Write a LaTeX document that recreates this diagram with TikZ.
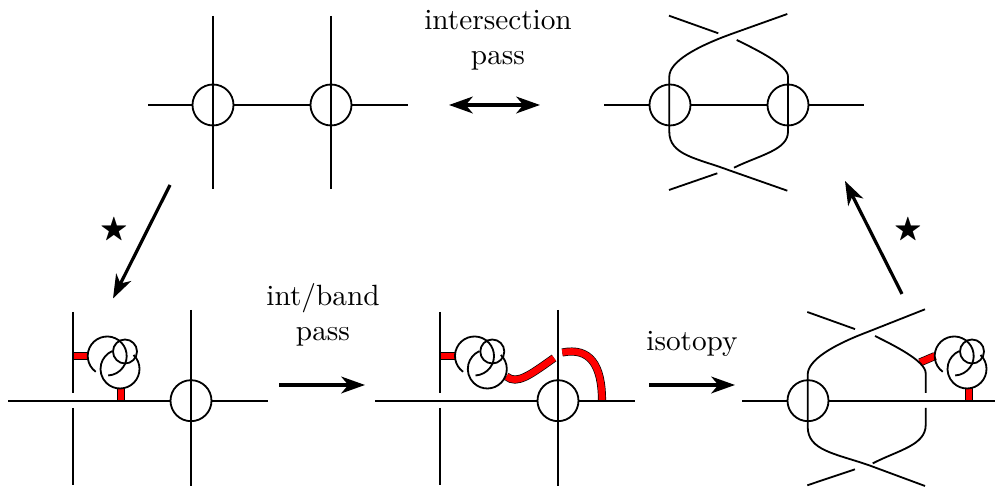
\documentclass[tikz,border=0pt]{standalone}
\usepackage{amsmath}
\usepackage{amssymb}
\usetikzlibrary{arrows.meta}
\tikzset{
    crossing/.style={
    circle,draw=black,inner sep=0pt,minimum size=14.7pt,line width=0.65pt
    },
    strand/.style={
    line width=0.65pt
    },
    band/.style={
    draw=black,double=red,double distance=2.4pt,line width=0.25pt
    },
    move/.style={
    line width=1.15pt,-{Stealth[length=8.5pt,width=6pt,inset=2.5pt]}
    },
    twomove/.style={
    line width=1.15pt,{Stealth[length=8.5pt,width=6pt,inset=2.5pt]}-{Stealth[length=8.5pt,width=6pt,inset=2.5pt]}
    },
    pics/clasper/.style={
    code={
       \draw[strand] (-1.38,4.47) ++(234:1.95) arc[start angle=234,end angle=-87,radius=1.95];
       \draw[strand] (-0.1,3.17) ++(46:1.95) arc[start angle=46,end angle=-246,radius=1.95];
       \draw[strand] (0.4,4.92) circle[radius=1.2];
    }
    },
}

\begin{document}
\begin{tikzpicture}[x=0.126cm, y=0.126cm, font=\fontsize{10.5}{12.6}\selectfont]
   \useasboundingbox (0,0) rectangle (99.5,48.9);

   % top left
   \node[crossing] (A1) at (21.3,38.4) {};
   \node[crossing] (A2) at (33.1,38.4) {};
   \coordinate (Al) at (14.8,38.4);
   \coordinate (Ar) at (40.8,38.4);
   \path[strand]
     (Al) edge (A1)
     (A1) edge (A2)
     (A2) edge (Ar);
   \draw[strand] (21.3,47.3) -- (21.3,30);
   \draw[strand] (33.1,47.3) -- (33.1,30);

   % top right
   \node[crossing] (B1) at (67,38.4) {};
   \node[crossing] (B2) at (78.8,38.4) {};
   \coordinate (Bl) at (60.4,38.4);
   \coordinate (Br) at (86.4,38.4);
   \path[strand]
     (Bl) edge (B1)
     (B1) edge (B2)
     (B2) edge (Br);
   \draw[strand] (78.73,47.5) -- (73.33,45.57) .. controls (69.5,44.2) and (66.93,42.7) .. (66.93,41.23)
     -- (66.93,35.73) .. controls (66.93,33.4) and (69.6,33.1) .. (72.83,31.9) -- (78.73,29.83);
   \draw[strand] (66.9,47.33) -- (71.83,45.57);
   \draw[strand] (73.67,44.9) .. controls (75.6,43.95) and (78.8,42.4) .. (78.8,41.23)
     -- (78.8,35.73) .. controls (78.8,33.9) and (76,33.4) .. (73.4,32.13);
   \draw[strand] (71.73,31.57) -- (66.9,29.9);

   % bottom left
   \draw[band] (7.3,13.3) -- (8.8,13.3);
   \draw[band] (12.1,8.83) -- (12.1,10.1);
   \node[crossing] (C1) at (19.1,8.83) {};
   \coordinate (Cl) at (0.8,8.83);
   \coordinate (Cr) at (26.8,8.83);
   \path[strand]
     (Cl) edge (C1)
     (C1) edge (Cr);
   \draw[strand] (19.1,17.9) -- (19.1,0.3);
   \draw[strand] (7.3,17.7) -- (7.3,9.6);
   \draw[strand] (7.3,8.1) -- (7.3,0.4);
   \pic at (12.1,8.83) {clasper};

   % bottom middle
   \draw[band] (44,13.3) -- (45.5,13.3);
   \draw[band] (50.65,11.25) .. controls (51.7,10.4) and (53,11.4) .. (55.4,13.1);
   \draw[band] (56.23,13.65) .. controls (59,14.2) and (60.2,12.4) .. (60.2,8.83);
   \node[crossing] (D1) at (55.8,8.83) {};
   \coordinate (Dl) at (37.5,8.83);
   \coordinate (Dr) at (63.5,8.83);
   \path[strand]
     (Dl) edge (D1)
     (D1) edge (Dr);
   \draw[strand] (55.8,17.9) -- (55.8,0.3);
   \draw[strand] (44,17.7) -- (44,9.6);
   \draw[strand] (44,8.1) -- (44,0.4);
   \pic at (48.83,8.83) {clasper};

   % bottom right
   \draw[band] (92,12.66) -- (93.5,13.3);
   \draw[band] (96.9,8.83) -- (96.9,10.1);
   \node[crossing] (E1) at (80.8,8.83) {};
   \coordinate (El) at (74.2,8.83);
   \coordinate (Er) at (99.5,8.83);
   \path[strand]
     (El) edge (E1)
     (E1) edge (Er);
   \draw[strand] (92.5,17.97) -- (86.83,15.73) .. controls (83.3,14.4) and (80.77,12.9) .. (80.77,11.43)
     -- (80.77,6.23) .. controls (80.77,3.87) and (83.4,3.57) .. (86.83,2.4) -- (92.5,0.3);
   \draw[strand] (80.73,17.7) -- (85.5,15.99);
   \draw[strand] (87.5,15.3) .. controls (89.4,14.35) and (92.57,12.8) .. (92.57,11.57) -- (92.57,9.6);
   \draw[strand] (92.57,8.1) -- (92.57,6.4) .. controls (92.57,4.37) and (89.8,3.87) .. (87.27,2.56);
   \draw[strand] (85.5,1.97) -- (80.73,0.37);
   \pic at (96.8,8.83) {clasper};

   % moves between the pictures
   \coordinate (m1a) at (44.9,38.4);
   \coordinate (m1b) at (54,38.4);
   \coordinate (m2a) at (17,30.4);
   \coordinate (m2b) at (11.3,19.05);
   \coordinate (m3a) at (27.9,10.4);
   \coordinate (m3b) at (36.5,10.4);
   \coordinate (m4a) at (64.9,10.4);
   \coordinate (m4b) at (73.5,10.4);
   \coordinate (m5a) at (90.2,19.5);
   \coordinate (m5b) at (84.5,30.8);
   \draw[twomove] (m1a) -- (m1b);
   \draw[move] (m2a) -- (m2b);
   \draw[move] (m3a) -- (m3b);
   \draw[move] (m4a) -- (m4b);
   \draw[move] (m5a) -- (m5b);

   \node[align=center] (L1) at (49.8,44.85) {intersection\\pass};
   \node[align=center] (L2) at (32.3,17.4) {int/band\\pass};
   \node (L3) at (69.2,14.5) {isotopy};
   \node (S1) at (11.4,25.9) {$\bigstar$};
   \node (S2) at (90.8,25.9) {$\bigstar$};
\end{tikzpicture}
\end{document}
